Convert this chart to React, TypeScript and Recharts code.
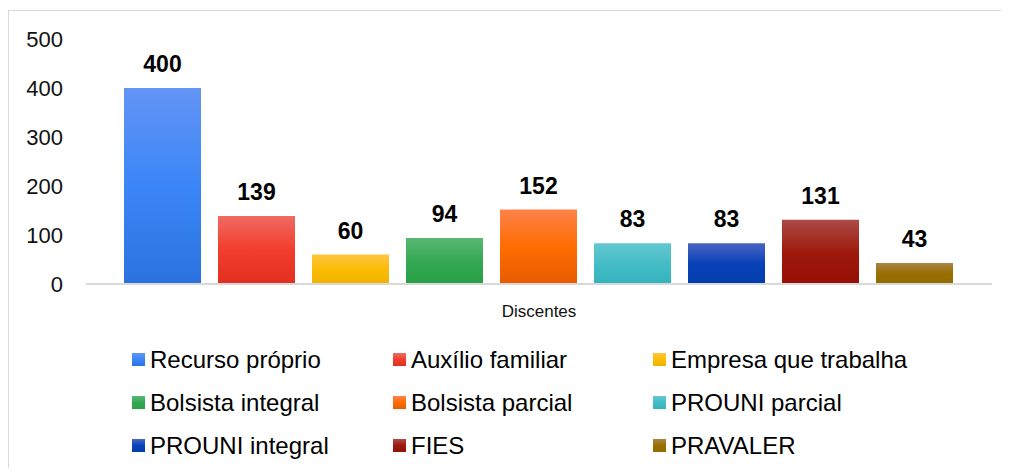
import React from 'react';
import { BarChart, Bar, XAxis, YAxis, Legend, LabelList } from 'recharts';

const categories = ['Discentes'];
const seriesNames = [
  'Recurso próprio',
  'Auxílio familiar',
  'Empresa que trabalha',
  'Bolsista integral',
  'Bolsista parcial',
  'PROUNI parcial',
  'PROUNI integral',
  'FIES',
  'PRAVALER',
];
const seriesValues = [400, 139, 60, 94, 152, 83, 83, 131, 43];
const yTicks = [0, 100, 200, 300, 400, 500];

const gradTop = ['#6394f5', '#ef6b63', '#ffc540', '#5bb774', '#ff824a', '#63c7d0', '#4b65c3', '#ab4b47', '#aa8446'];
const gradMid = ['#3b86f8', '#f23d2d', '#fbbc05', '#34a853', '#ff6d01', '#46bdc6', '#0842b7', '#9e1a0d', '#9a6f00'];
const gradBot = ['#2b72e0', '#e1301f', '#f0b200', '#27a046', '#e85c00', '#33b3bc', '#003ead', '#970f06', '#936b00'];

const data = categories.map((c) => {
  const row: Record<string, string | number> = { name: c };
  seriesValues.forEach((v, i) => {
    row[`s${i}`] = v;
  });
  return row;
});

const FONT = '"Liberation Sans", Arial, Helvetica, sans-serif';

if (typeof document !== 'undefined') {
  document.body.style.overflow = 'hidden';
}

const LegendContent = (props: any) => {
  const payload = [...(props.payload || [])].sort(
    (a: any, b: any) => seriesNames.indexOf(a.value) - seriesNames.indexOf(b.value)
  );
  return (
    <div
      style={{
        height: 132,
        width: 1000,
        boxSizing: 'border-box',
        paddingLeft: 123,
        display: 'grid',
        gridTemplateColumns: '261px 260px 320px',
        gridAutoRows: '43px',
        fontFamily: FONT,
        fontSize: 24,
        color: '#000',
      }}
    >
      {payload.map((entry: any, idx: number) => {
        const i = seriesNames.indexOf(entry.value);
        const k = i >= 0 ? i : idx;
        return (
          <div key={entry.value} style={{ display: 'flex', alignItems: 'center', whiteSpace: 'nowrap' }}>
            <span
              style={{
                display: 'inline-block',
                width: 13,
                height: 13,
                marginRight: 5,
                background: `linear-gradient(${gradTop[k]}, ${gradMid[k]}, ${gradBot[k]})`,
              }}
            />
            <span>{entry.value}</span>
          </div>
        );
      })}
    </div>
  );
};

export default function App() {
  return (
    <div
      style={{
        position: 'relative',
        top: 2,
        width: 1001,
        height: 460,
        borderTop: '1px solid #d9d9d9',
        borderLeft: '1px solid #d9d9d9',
        boxSizing: 'border-box',
        background: '#fff',
      }}
    >
      <BarChart
        width={1000}
        height={459}
        data={data}
        margin={{ top: 28, right: 17, bottom: 0, left: 0 }}
        barCategoryGap={38}
        barGap={17}
      >
        <defs>
          {seriesNames.map((n, i) => (
            <linearGradient key={n} id={`grad${i}`} x1="0" y1="0" x2="0" y2="1">
              <stop offset="0%" stopColor={gradTop[i]} />
              <stop offset="50%" stopColor={gradMid[i]} />
              <stop offset="100%" stopColor={gradBot[i]} />
            </linearGradient>
          ))}
        </defs>
        <XAxis
          dataKey="name"
          height={54}
          axisLine={{ stroke: '#d9d9d9', strokeWidth: 2 }}
          tickLine={false}
          tickSize={6}
          tickMargin={15}
          tick={{ fontFamily: FONT, fontSize: 17, fill: '#111' }}
        />
        <YAxis
          width={77}
          domain={[0, 500]}
          ticks={yTicks}
          axisLine={false}
          tickLine={false}
          tickSize={0}
          tickMargin={23}
          tick={{ fontFamily: FONT, fontSize: 22, fill: '#111' }}
        />
        <Legend verticalAlign="bottom" content={<LegendContent />} wrapperStyle={{ left: 0, width: 1000 }} />
        {seriesNames.map((n, i) => (
          <Bar key={n} dataKey={`s${i}`} name={n} fill={`url(#grad${i})`} isAnimationActive={false}>
            <LabelList
              dataKey={`s${i}`}
              position="top"
              offset={16}
              style={{ fontFamily: FONT, fontSize: 23, fontWeight: 'bold', fill: '#000' }}
            />
          </Bar>
        ))}
      </BarChart>
    </div>
  );
}
